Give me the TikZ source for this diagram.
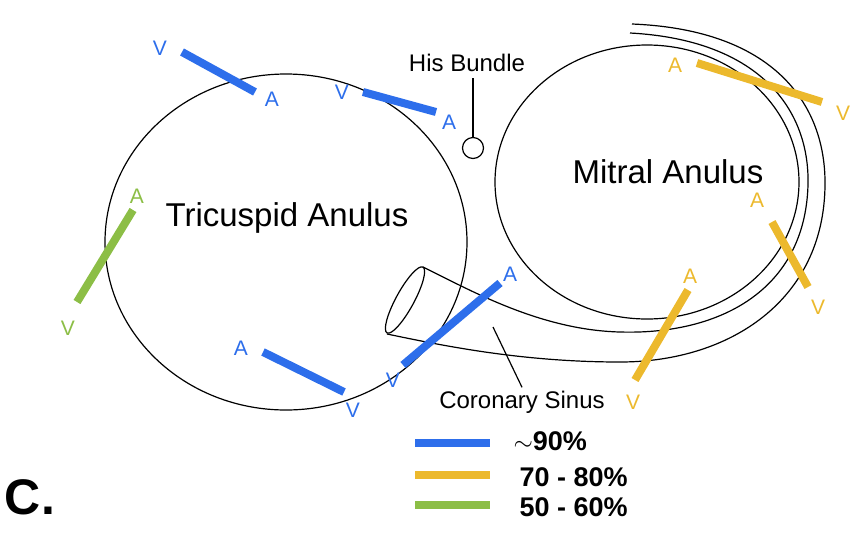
\documentclass[tikz,border=0pt]{standalone}
\usepackage{fontspec}
\setmainfont{Liberation Sans}
\begin{document}
\begin{tikzpicture}[x=1pt,y=-1pt,
  ln/.style={black,line width=1.2pt},
  bar/.style={line width=8pt},
  lab/.style={font=\fontsize{21}{21}\selectfont},
  big/.style={font=\fontsize{33}{33}\selectfont},
  sm/.style={font=\fontsize{24}{24}\selectfont},
  leg/.style={font=\bfseries\fontsize{27}{27}\selectfont,anchor=west}]
\definecolor{cb}{RGB}{45,110,235}
\definecolor{cy}{RGB}{236,185,45}
\definecolor{cg}{RGB}{140,190,70}
\useasboundingbox (0,0) rectangle (868,550);
% annuli
\draw[ln] (286,242) ellipse [x radius=181pt, y radius=168pt];
\draw[ln] (647,182) ellipse [x radius=152pt, y radius=137pt];
\node[big] (tri) at (287,218) {Tricuspid Anulus};
\node[big] (mit) at (668,172) {Mitral Anulus};
% coronary sinus
\draw[ln,rotate around={61.4:(405,300)}] (405,300) ellipse [x radius=37.5pt, y radius=9pt];
\draw[ln] (630,33) .. controls (760,40) and (810,110) .. (808,185) .. controls (805,290) and (720,335) .. (620,332) .. controls (540,330) and (470,290) .. (423,267);
\draw[ln] (632,24) .. controls (780,30) and (826,110) .. (825,185) .. controls (824,300) and (730,362) .. (620,362) .. controls (520,362) and (440,345) .. (387,334);
\node[sm] (cs) at (522,402) {Coronary Sinus};
\draw[ln] (493,327) -- (cs.north);
% His bundle
\node[draw,circle,ln,minimum size=21pt,inner sep=0pt] (his) at (473,148) {};
\node[sm] (hisl) at (467,63) {His Bundle};
\draw[ln] (473,78) -- (his.north);
% blue bars
\draw[bar,cb] (182,52) -- (255,92);
\node[lab,cb] at (160,48) {V}; \node[lab,cb] at (272,99) {A};
\draw[bar,cb] (363,92) -- (436,112);
\node[lab,cb] at (342,92) {V}; \node[lab,cb] at (449,122) {A};
\draw[bar,cb] (403,365) -- (500,283);
\node[lab,cb] at (393,380) {V}; \node[lab,cb] at (510,274) {A};
\draw[bar,cb] (263,352) -- (344,392);
\node[lab,cb] at (241,348) {A}; \node[lab,cb] at (353,410) {V};
% green
\draw[bar,cg] (133,210) -- (77,302);
\node[lab,cg] at (137,196) {A}; \node[lab,cg] at (68,328) {V};
% yellow
\draw[bar,cy] (697,63) -- (822,102);
\node[lab,cy] at (675,65) {A}; \node[lab,cy] at (843,113) {V};
\draw[bar,cy] (772,222) -- (808,287);
\node[lab,cy] at (757,200) {A}; \node[lab,cy] at (818,307) {V};
\draw[bar,cy] (688,290) -- (635,380);
\node[lab,cy] at (690,276) {A}; \node[lab,cy] at (633,402) {V};
% legend
\draw[bar,cb] (415,443) -- (490,443);
\node[leg] at (510,441) {$\sim$90\%};
\draw[bar,cy] (415,475) -- (490,475);
\node[leg] at (516,477) {70 - 80\%};
\draw[bar,cg] (415,505) -- (490,505);
\node[leg] at (516,507) {50 - 60\%};
\node[font=\bfseries\fontsize{50}{50}\selectfont] (c) at (30,497) {C.};
\end{tikzpicture}
\end{document}
